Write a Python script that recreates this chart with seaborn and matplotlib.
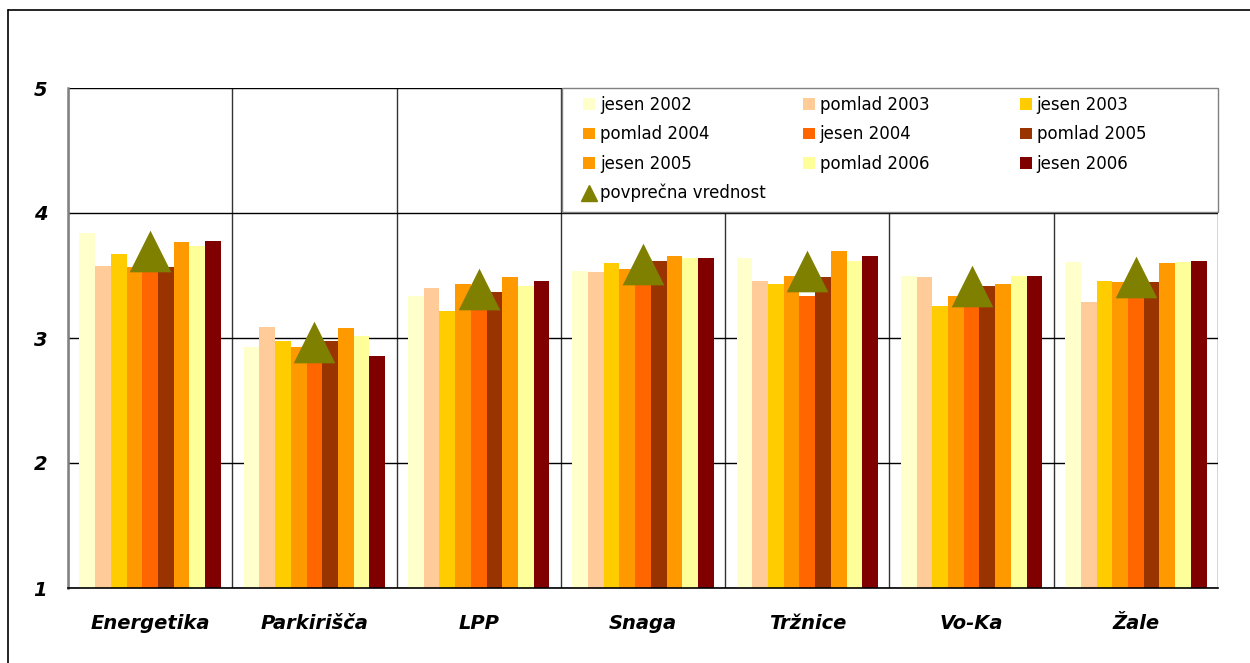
import numpy as np
import pandas as pd
import seaborn as sns
import matplotlib.pyplot as plt
import matplotlib.patches as mpatches
from matplotlib.lines import Line2D

sns.set_style('white')
plt.rcParams['font.family'] = ['DejaVu Sans']
plt.rcParams['text.color'] = 'black'
plt.rcParams['xtick.color'] = 'black'
plt.rcParams['ytick.color'] = 'black'

categories = ['Energetika', 'Parkirišča', 'LPP', 'Snaga', 'Tržnice', 'Vo-Ka', 'Žale']
periods = ['jesen 2002', 'pomlad 2003', 'jesen 2003', 'pomlad 2004', 'jesen 2004',
           'pomlad 2005', 'jesen 2005', 'pomlad 2006', 'jesen 2006']
colors = ['#FFFFCC', '#FFCC99', '#FFCC00', '#FF9900', '#FF6600',
          '#993300', '#FF9900', '#FFFF99', '#800000']

# vrednosti po obdobjih (vrstni red kot categories)
jesen_2002 = [3.84, 2.93, 3.34, 3.54, 3.64, 3.50, 3.61]
pomlad_2003 = [3.58, 3.09, 3.40, 3.53, 3.46, 3.49, 3.29]
jesen_2003 = [3.67, 2.98, 3.22, 3.60, 3.43, 3.26, 3.46]
pomlad_2004 = [3.57, 2.93, 3.43, 3.55, 3.50, 3.34, 3.45]
jesen_2004 = [3.70, 2.85, 3.33, 3.54, 3.34, 3.33, 3.36]
pomlad_2005 = [3.57, 2.98, 3.37, 3.62, 3.49, 3.42, 3.45]
jesen_2005 = [3.77, 3.08, 3.49, 3.66, 3.70, 3.43, 3.60]
pomlad_2006 = [3.74, 3.02, 3.42, 3.64, 3.62, 3.50, 3.61]
jesen_2006 = [3.78, 2.86, 3.46, 3.64, 3.66, 3.50, 3.62]
povprecje = [3.70, 2.97, 3.39, 3.59, 3.54, 3.42, 3.49]

series = [jesen_2002, pomlad_2003, jesen_2003, pomlad_2004, jesen_2004,
          pomlad_2005, jesen_2005, pomlad_2006, jesen_2006]
rows = []
for period, values in zip(periods, series):
    for cat, v in zip(categories, values):
        rows.append({'kategorija': cat, 'obdobje': period, 'vrednost': v})
df = pd.DataFrame(rows)
palette = dict(zip(periods, colors))

fig = plt.figure(figsize=(12.5, 6.63), dpi=100)
ax = fig.add_axes([68 / 1250, 75 / 663, 1150 / 1250, 500 / 663])

sns.barplot(data=df, x='kategorija', y='vrednost', hue='obdobje', order=categories,
            hue_order=periods, palette=palette, saturation=1, width=0.86,
            linewidth=0, legend=False, ax=ax)
sns.scatterplot(x=np.arange(len(categories)), y=povprecje, marker='^', s=900,
                color='#808000', linewidth=0, zorder=4, legend=False, ax=ax)

ax.set_xlim(-0.5, len(categories) - 0.5)
ax.set_ylim(1, 5)
ax.set_xlabel('')
ax.set_ylabel('')
ax.set_axisbelow(True)

# osi in mreža
ax.set_yticks([1, 2, 3, 4, 5])
ax.set_yticklabels(['1', '2', '3', '4', '5'], fontweight='bold', fontstyle='italic', fontsize=14)
ax.set_xticks(range(len(categories)))
ax.set_xticklabels(categories, fontweight='bold', fontstyle='italic', fontsize=14)
ax.set_xticks(np.arange(-0.5, len(categories), 1), minor=True)
ax.tick_params(axis='x', which='major', length=0, pad=19)
ax.tick_params(axis='x', which='minor', length=5, color='#808080', width=1)
ax.tick_params(axis='y', length=5, color='black', width=1, pad=10)
ax.grid(axis='x', which='minor', color='#333333', lw=1)
ax.grid(axis='x', which='major', visible=False)
ax.grid(axis='y', color='black', lw=1)
for s in ['top', 'right']:
    ax.spines[s].set_visible(False)
ax.spines['left'].set_color('#808080')
ax.spines['left'].set_linewidth(1.8)
ax.spines['bottom'].set_color('black')
ax.spines['bottom'].set_linewidth(1.2)

# legenda: okvir + tri stolpce
ax.add_patch(mpatches.Rectangle((0.4296, 0.752), 0.5704, 0.248, transform=ax.transAxes,
                                facecolor='white', edgecolor='#808080', lw=1,
                                zorder=5, clip_on=False))
handles = [mpatches.Patch(facecolor=c, edgecolor='none') for c in colors]
avg_handle = Line2D([], [], marker='^', color='#808000', linestyle='none', markersize=11)
columns = [
    ([handles[0], handles[3], handles[6], avg_handle],
     [periods[0], periods[3], periods[6], 'povprečna vrednost']),
    ([handles[1], handles[4], handles[7]], [periods[1], periods[4], periods[7]]),
    ([handles[2], handles[5], handles[8]], [periods[2], periods[5], periods[8]]),
]
col_x = [0.448, 0.6391, 0.8278]
for i, ((hs, ls), x) in enumerate(zip(columns, col_x)):
    leg = ax.legend(hs, ls, loc='upper left', bbox_to_anchor=(x, 0.984), frameon=False,
                    borderpad=0, borderaxespad=0, fontsize=12, handlelength=0.7,
                    handleheight=0.7, handletextpad=0.3, labelspacing=0.68)
    leg.set_zorder(6)
    if i < len(columns) - 1:
        ax.add_artist(leg)

# zunanji okvir
fig.add_artist(Line2D([8 / 1250, 8 / 1250], [0, 1 - 10 / 663], color='black', lw=1.2))
fig.add_artist(Line2D([8 / 1250, 1], [1 - 10 / 663, 1 - 10 / 663], color='black', lw=1.2))

fig.savefig('out.png', dpi=100)
